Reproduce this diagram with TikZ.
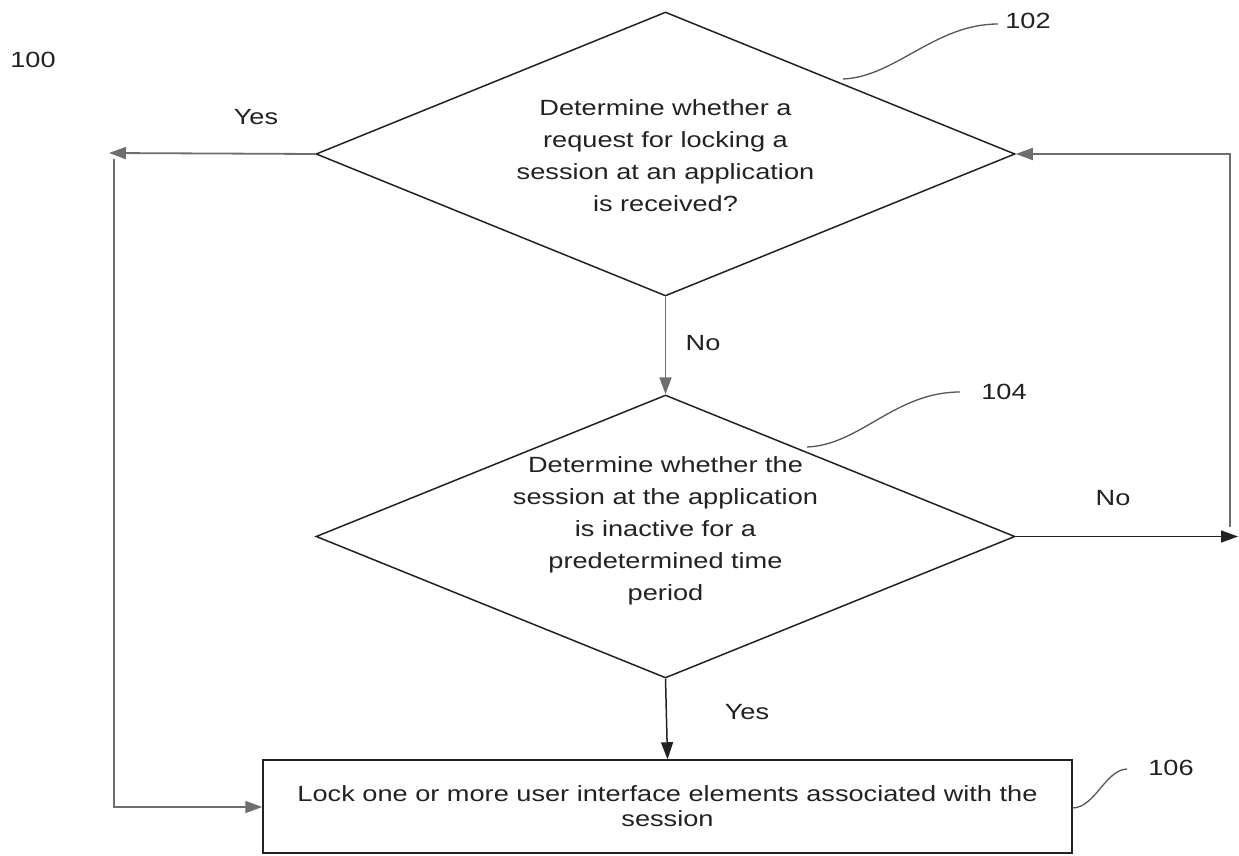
\documentclass[tikz,border=0pt]{standalone}
\usepackage{fontspec}
\setmainfont{Liberation Sans}[FakeStretch=1.235]
\usetikzlibrary{arrows.meta,shapes.geometric}
\definecolor{ink}{HTML}{222222}
\definecolor{grayline}{HTML}{6E6E6E}
\definecolor{leadcol}{HTML}{555555}
\begin{document}
\begin{tikzpicture}[x=1pt,y=-1pt,
  font=\fontsize{22}{32}\selectfont,
  dia/.style={diamond, draw=ink, line width=1.5pt, minimum width=699pt, minimum height=284pt, inner sep=0pt},
  txt/.style={text=ink, align=center, inner sep=0pt},
  lbl/.style={text=ink, inner sep=0pt},
  garrow/.style={draw=grayline, line width=1.8pt, -{Triangle[length=17pt,width=12pt]}},
  barrow/.style={draw=ink, line width=1.5pt, -{Triangle[length=17pt,width=12pt]}},
  leader/.style={draw=leadcol, line width=1.3pt},
]
\useasboundingbox (0,0) rectangle (1239,856);

% decision shapes
\node[dia] (d1) at (665.5,154) {};
\node[txt] (t1) at (665.5,156) {Determine whether a\\request for locking a\\session at an application\\is received?};
\node[dia, minimum height=283pt] (d2) at (665.5,536.5) {};
\node[txt] (t2) at (665.5,531) {Determine whether the\\session at the application\\is inactive for a\\predetermined time\\period};

% process box
\node[draw=ink, line width=1.5pt, minimum width=809pt, minimum height=93pt, inner sep=0pt] (r) at (667.5,806.5) {};
\node[txt, font=\fontsize{22}{25}\selectfont] (rt) at (667.5,806) {Lock one or more user interface elements associated with the\\session};

% reference numbers
\node[lbl] (n100) at (33,60) {100};
\node[lbl] (n102) at (1028,21) {102};
\node[lbl] (n104) at (1004,392) {104};
\node[lbl] (n106) at (1171,768) {106};

% edge labels
\node[lbl] (yes1) at (256,117) {Yes};
\node[lbl] (no1) at (703,343) {No};
\node[lbl] (no2) at (1113,498) {No};
\node[lbl] (yes2) at (747,712) {Yes};

% helper coordinates
\coordinate (yesend) at (109,153);
\coordinate (lefttop) at (114,159);
\coordinate (leftbot) at (114,807);
\coordinate (noend) at (1238,536.5);
\coordinate (rightbot) at (1230,527);
\coordinate (righttop) at (1230,154);
\coordinate (l2a) at (843,79);
\coordinate (l2b) at (998,24);
\coordinate (l4a) at (807,447);
\coordinate (l4b) at (960,392);
\coordinate (l6a) at (1072,808);
\coordinate (l6b) at (1127,769);

% connectors
\draw[garrow] (d1.west) -- (yesend);
\draw[garrow] (lefttop) -- (leftbot) -- (r.west |- leftbot);
\draw[barrow] (d2.east) -- (noend);
\draw[garrow] (rightbot) -- (righttop) -- (d1.east);
\draw[garrow] (d1.south) -- (d2.north);
\draw[barrow] (d2.south) -- (r.north);

% leader lines
\draw[leader] (l2a) .. controls (895,77) and (935,24) .. (l2b);
\draw[leader] (l4a) .. controls (860,445) and (895,392) .. (l4b);
\draw[leader] (l6a) .. controls (1095,808) and (1105,770) .. (l6b);
\end{tikzpicture}
\end{document}
